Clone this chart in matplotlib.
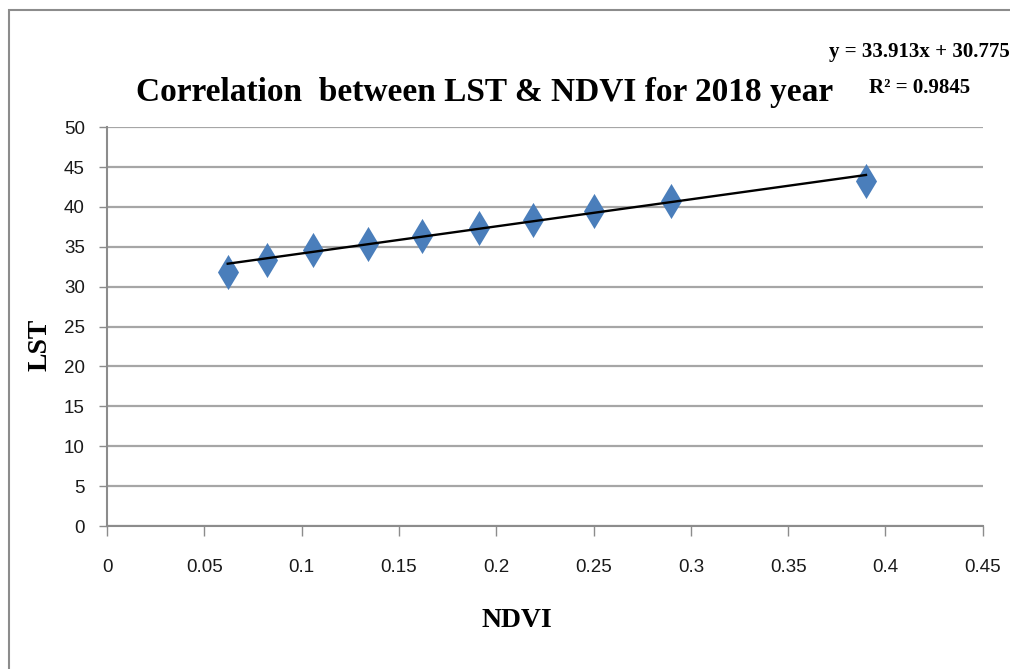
import matplotlib
matplotlib.use('Agg')
import matplotlib.pyplot as plt
from matplotlib.patches import Rectangle
import numpy as np

# NDVI / LST values
ndvi = [0.062, 0.082, 0.106, 0.134, 0.162, 0.191, 0.219, 0.250, 0.290, 0.390]
lst = [31.9, 33.4, 34.6, 35.4, 36.3, 37.4, 38.3, 39.5, 40.8, 43.3]

# trendline coefficients shown on the chart
slope = 33.913
intercept = 30.775
r2 = 0.9845

x_ticks = [0, 0.05, 0.1, 0.15, 0.2, 0.25, 0.3, 0.35, 0.4, 0.45]
x_tick_labels = ['0', '0.05', '0.1', '0.15', '0.2', '0.25', '0.3', '0.35', '0.4', '0.45']
y_ticks = [0, 5, 10, 15, 20, 25, 30, 35, 40, 45, 50]

tick_font = ['Liberation Sans Narrow', 'Liberation Sans', 'DejaVu Sans']
serif_font = ['Liberation Serif', 'DejaVu Serif']

fig = plt.figure(figsize=(10.1, 6.69), dpi=100)
ax = fig.add_axes([0.106, 0.2137, 0.867, 0.5963])

# chart area border
fig.patches.append(Rectangle((0.009, -0.01), 1.0, 0.995, transform=fig.transFigure,
                             fill=False, edgecolor='#8c8c8c', linewidth=1.5))

ax.scatter(ndvi, lst, marker='d', s=320, color='#4a7ebb', zorder=3, linewidths=0)
fit_x = np.array([min(ndvi), max(ndvi)])
ax.plot(fit_x, slope * fit_x + intercept, color='black', linewidth=1.7, zorder=4)

ax.set_xlim(0, 0.45)
ax.set_ylim(0, 50)
ax.set_xticks(x_ticks)
ax.set_xticklabels(x_tick_labels)
ax.set_yticks(y_ticks)
ax.yaxis.grid(True, color='#a6a6a6', linewidth=1.6)
ax.set_axisbelow(True)

for side in ['top', 'right']:
    ax.spines[side].set_visible(False)
for side in ['left', 'bottom']:
    ax.spines[side].set_color('#8c8c8c')
    ax.spines[side].set_linewidth(1.5)

ax.tick_params(axis='x', direction='out', length=7, width=1, color='#8c8c8c', pad=17)
ax.tick_params(axis='y', direction='out', length=6, width=1, color='#8c8c8c', pad=10)
for lbl in ax.get_xticklabels() + ax.get_yticklabels():
    lbl.set_family(tick_font)
    lbl.set_fontsize(13.5)
    lbl.set_color('#1a1a1a')

ax.set_xlabel('NDVI', family=serif_font, fontweight='bold', fontsize=20)
ax.set_ylabel('LST', family=serif_font, fontweight='bold', fontsize=20)
ax.xaxis.set_label_coords(0.468, -0.206)
ax.yaxis.set_label_coords(-0.062, 0.454)

fig.text(0.48, 0.862, 'Correlation  between LST & NDVI for 2018 year', family=serif_font,
         fontweight='bold', fontsize=24, ha='center', va='center')
fig.text(0.91, 0.922, f'y = {slope}x + {intercept}', family=serif_font,
         fontweight='bold', fontsize=15, ha='center', va='center')
fig.text(0.91, 0.868, f'R² = {r2}', family=serif_font,
         fontweight='bold', fontsize=15, ha='center', va='center')

fig.savefig('out.png', dpi=100)
